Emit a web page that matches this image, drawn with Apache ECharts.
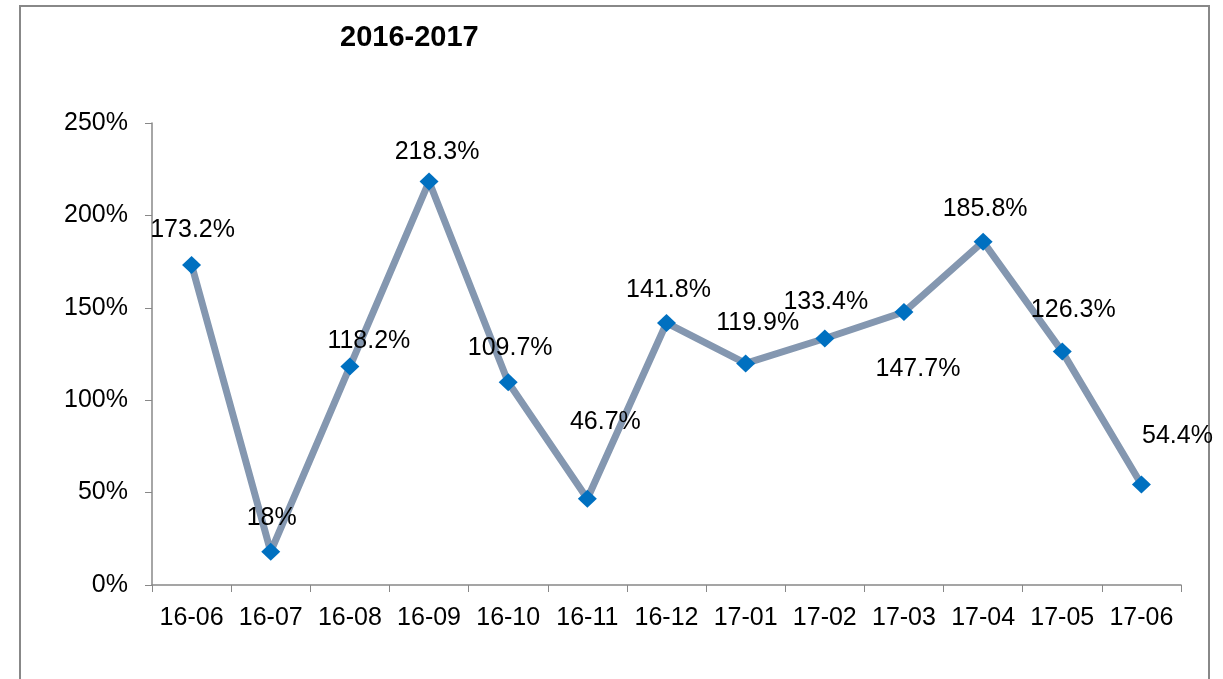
<!DOCTYPE html>
<html>
<head>
<meta charset="utf-8">
<script src="https://cdn.jsdelivr.net/npm/echarts@6/dist/echarts.min.js"></script>
<style>html,body{margin:0;padding:0;background:#fff;}#c{width:1223px;height:679px;}</style>
</head>
<body>
<div id="c"></div>
<script>
const categories = ['16-06','16-07','16-08','16-09','16-10','16-11','16-12','17-01','17-02','17-03','17-04','17-05','17-06'];
const values = [173.2, 18, 118.2, 218.3, 109.7, 46.7, 141.8, 119.9, 133.4, 147.7, 185.8, 126.3, 54.4];
const labelOffsets = [[1,-35],[1,-34],[19,-25],[8,-29],[2,-34],[18,-77],[2,-33],[12,-40],[1,-36],[14,57],[2,-33],[11,-41],[36,-48]];
const yTicks = {min: 0, max: 250, interval: 50};
const titleText = '2016-2017';

const font = 'Liberation Sans, Arial, sans-serif';
const chart = echarts.init(document.getElementById('c'), null, {renderer: 'canvas'});
chart.setOption({
  backgroundColor: '#fff',
  animation: false,
  title: {
    text: titleText, left: 340, top: 23, padding: 0,
    textStyle: {fontFamily: font, fontSize: 29, fontWeight: 'bold', color: '#000'}
  },
  graphic: [{
    type: 'rect', shape: {x: 20, y: 6, width: 1189, height: 700},
    style: {fill: 'none', stroke: '#888', lineWidth: 2}, silent: true, z: -1
  }],
  grid: {left: 152, right: 42, top: 123, bottom: 94, containLabel: false},
  xAxis: {
    type: 'category', data: categories, boundaryGap: true,
    axisLine: {lineStyle: {color: '#888', width: 1.5}},
    axisTick: {show: true, alignWithLabel: false, length: 7, lineStyle: {color: '#888'}},
    axisLabel: {fontFamily: font, fontSize: 25, color: '#000', margin: 21, interval: 0},
    splitLine: {show: false}
  },
  yAxis: {
    type: 'value', min: yTicks.min, max: yTicks.max, interval: yTicks.interval,
    axisLine: {show: true, lineStyle: {color: '#888', width: 1.5}},
    axisTick: {show: true, length: 7, lineStyle: {color: '#888'}},
    axisLabel: {fontFamily: font, fontSize: 25, color: '#000', margin: 24, formatter: '{value}%'},
    splitLine: {show: false}
  },
  series: [{
    type: 'line',
    data: values.map((v, i) => ({
      value: v,
      label: {offset: labelOffsets[i]}
    })),
    lineStyle: {color: '#8497B0', width: 7},
    itemStyle: {color: '#0070C0'},
    symbol: 'diamond', symbolSize: [19, 18], showAllSymbol: true,
    label: {
      show: true, position: 'inside', color: '#000',
      fontFamily: font, fontSize: 25,
      formatter: p => p.value + '%'
    }
  }]
});
</script>
</body>
</html>
